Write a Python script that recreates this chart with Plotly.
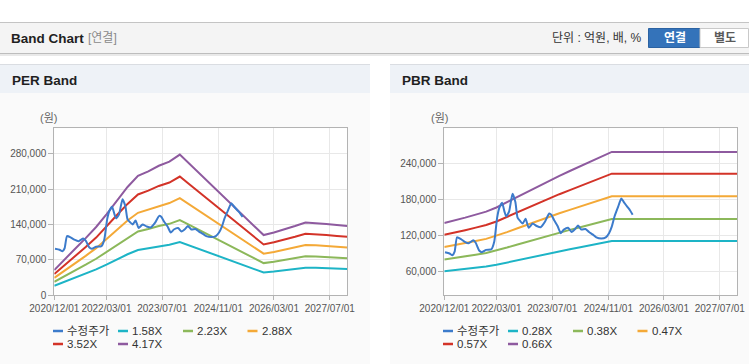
import plotly.graph_objects as go

W, H = 749, 364

# ---------------- data ----------------
band_dates = ["2020-12-01", "2021-03-01", "2021-06-01", "2021-09-01", "2021-12-01",
              "2022-03-01", "2022-06-01", "2022-09-01", "2022-12-01", "2023-03-01",
              "2023-06-01", "2023-09-01", "2023-12-01", "2024-03-01", "2024-06-01",
              "2024-09-01", "2024-12-01", "2025-03-01", "2025-06-01", "2025-09-01",
              "2025-12-01", "2026-03-01", "2026-06-01", "2026-09-01", "2026-12-01",
              "2027-03-01", "2027-06-01", "2027-09-01", "2027-12-01"]

per_names = ["1.58X", "2.23X", "2.88X", "3.52X", "4.17X"]
per_158 = [18900, 26500, 34900, 42800, 51200, 60600, 71200, 81100, 89400, 92800, 97000, 100000, 105300,
           97800, 90200, 82600, 75000, 67400, 59900, 52300, 45100, 47000, 49300, 51900, 54600, 54200,
           53400, 52700, 51900]
per_223 = [26700, 37400, 49200, 60400, 72200, 85600, 100500, 114400, 126200, 131000, 136900, 141200,
           148700, 138000, 127300, 116600, 105900, 95200, 84500, 73800, 63600, 66300, 69500, 73300,
           77000, 76500, 75400, 74300, 73300]
per_288 = [34500, 48300, 63500, 78000, 93200, 110500, 129800, 147800, 163000, 169200, 176800, 182300,
           192000, 178200, 164400, 150600, 136700, 122900, 109100, 95300, 82200, 85600, 89800, 94600,
           99400, 98800, 97400, 96000, 94600]
per_352 = [42200, 59100, 77700, 95400, 114000, 135100, 158700, 180600, 199200, 206800, 216100, 222800,
           234700, 217800, 200900, 184000, 167100, 150300, 133400, 116500, 100400, 104700, 109700,
           115600, 121600, 120700, 119000, 117300, 115600]
per_417 = [50000, 70000, 92000, 113000, 135000, 160000, 188000, 214000, 236000, 245000, 256000, 264000,
           278000, 258000, 238000, 218000, 198000, 178000, 158000, 138000, 119000, 124000, 130000,
           137000, 144000, 143000, 141000, 139000, 137000]

pbr_names = ["0.28X", "0.38X", "0.47X", "0.57X", "0.66X"]
pbr_028 = [60100, 61800, 63900, 66000, 68200, 71100, 75000, 78800, 82600, 86500, 90300, 93700, 97100,
           100500, 103900, 107400, 110800, 110800, 110800, 110800, 110800, 110800, 110800, 110800,
           110800, 110800, 110800, 110800, 110800]
pbr_038 = [80100, 82400, 85200, 88000, 90900, 94900, 100000, 105100, 110200, 115300, 120400, 125000,
           129500, 134000, 138600, 143100, 147700, 147700, 147700, 147700, 147700, 147700, 147700,
           147700, 147700, 147700, 147700, 147700, 147700]
pbr_047 = [100800, 103700, 107300, 110800, 114400, 119400, 125800, 132300, 138700, 145100, 151600,
           157300, 163000, 168700, 174500, 180200, 185900, 185900, 185900, 185900, 185900, 185900,
           185900, 185900, 185900, 185900, 185900, 185900, 185900]
pbr_057 = [121300, 124700, 129000, 133300, 137600, 143600, 151400, 159100, 166800, 174600, 182300,
           189200, 196100, 203000, 209800, 216700, 223600, 223600, 223600, 223600, 223600, 223600,
           223600, 223600, 223600, 223600, 223600, 223600, 223600]
pbr_066 = [141000, 145000, 150000, 155000, 160000, 167000, 176000, 185000, 194000, 203000, 212000,
           220000, 228000, 236000, 244000, 252000, 260000, 260000, 260000, 260000, 260000, 260000,
           260000, 260000, 260000, 260000, 260000, 260000, 260000]

price_name = "수정주가"
price_dates = ["2020-12-07", "2021-01-16", "2021-02-10", "2021-03-01", "2021-03-22", "2021-04-25",
               "2021-05-25", "2021-07-01", "2021-08-10", "2021-09-01", "2021-10-01", "2021-10-25",
               "2021-12-01", "2022-01-16", "2022-02-10", "2022-03-07", "2022-03-25", "2022-04-19",
               "2022-05-10", "2022-05-25", "2022-06-19", "2022-07-19", "2022-08-13", "2022-09-01",
               "2022-09-25", "2022-10-16", "2022-11-10", "2022-12-07", "2023-01-10", "2023-02-15",
               "2023-03-22", "2023-04-28", "2023-06-04", "2023-06-22", "2023-07-16", "2023-08-16",
               "2023-09-13", "2023-10-10", "2023-11-16", "2023-12-16", "2024-01-16", "2024-02-10",
               "2024-03-10", "2024-04-16", "2024-05-16", "2024-06-16", "2024-07-19", "2024-09-01",
               "2024-10-10", "2024-11-07", "2024-12-01", "2024-12-25", "2025-01-25", "2025-02-22",
               "2025-03-16", "2025-04-16", "2025-05-10", "2025-06-01"]
price_values = [92000, 90000, 87000, 93000, 117000, 114000, 110000, 107000, 112000, 108000, 95000,
                92000, 96000, 97000, 110000, 150000, 166000, 175000, 160000, 152000, 160000, 190000,
                176000, 150000, 144000, 140000, 148000, 133000, 140000, 136000, 134000, 143000,
                157000, 155000, 146000, 136000, 124000, 130000, 133000, 126000, 131000, 137000,
                130000, 131000, 126000, 122000, 117000, 115000, 117000, 124000, 135000, 152000,
                168000, 182000, 176000, 168000, 162000, 155000]

x_tickvals = ["2020-12-01", "2022-03-01", "2023-07-01", "2024-11-01", "2026-03-01", "2027-07-01"]
x_ticktext = ["2020/12/01", "2022/03/01", "2023/07/01", "2024/11/01", "2026/03/01", "2027/07/01"]
x_range = ["2020-12-01", "2027-12-01"]

band_colors = ["#1db4c6", "#8cb85a", "#f4a937", "#d33328", "#8e5a9f"]
price_color = "#3c7bcb"

# ---------------- helpers ----------------
def px(x):
    return x / W


def py(y):
    return 1 - y / H


fig = go.Figure()

per_series = [per_158, per_223, per_288, per_352, per_417]
pbr_series = [pbr_028, pbr_038, pbr_047, pbr_057, pbr_066]

for name, vals, col in zip(per_names, per_series, band_colors):
    fig.add_trace(go.Scatter(x=band_dates, y=vals, name=name, mode="lines",
                             line=dict(color=col, width=2), xaxis="x", yaxis="y",
                             showlegend=False))
fig.add_trace(go.Scatter(x=price_dates, y=price_values, name=price_name, mode="lines",
                         line=dict(color=price_color, width=2, shape="spline", smoothing=0.5),
                         xaxis="x", yaxis="y", showlegend=False))

for name, vals, col in zip(pbr_names, pbr_series, band_colors):
    fig.add_trace(go.Scatter(x=band_dates, y=vals, name=name, mode="lines",
                             line=dict(color=col, width=2), xaxis="x2", yaxis="y2",
                             showlegend=False))
fig.add_trace(go.Scatter(x=price_dates, y=price_values, name=price_name, mode="lines",
                         line=dict(color=price_color, width=2, shape="spline", smoothing=0.5),
                         xaxis="x2", yaxis="y2", showlegend=False))

tick_font = dict(family="Liberation Sans, Arial, sans-serif", size=10, color="#555555")
ydom = [py(295.3), py(128.3)]

common_x = dict(type="date", range=x_range, tickvals=x_tickvals, ticktext=x_ticktext,
                tickangle=0, showline=True, mirror=True, linecolor="#b3b3b3", linewidth=1,
                showgrid=True, gridcolor="#e8e8e8", gridwidth=1,
                ticks="outside", ticklen=4, tickcolor="#b3b3b3", tickfont=tick_font,
                zeroline=False, fixedrange=True)
common_y = dict(showline=True, mirror=True, linecolor="#b3b3b3", linewidth=1,
                showgrid=True, gridcolor="#e8e8e8", gridwidth=1,
                ticks="outside", ticklen=5, tickcolor="#b3b3b3", tickfont=tick_font,
                tickformat=",d", zeroline=False, fixedrange=True)

fig.update_layout(
    xaxis=dict(common_x, domain=[px(54.3), px(347.3)], anchor="y"),
    yaxis=dict(common_y, domain=ydom, anchor="x", range=[0, 330000], tick0=0, dtick=70000),
    xaxis2=dict(common_x, domain=[px(444.3), px(737.3)], anchor="y2"),
    yaxis2=dict(common_y, domain=ydom, anchor="x2", range=[20000, 299500], tick0=0, dtick=60000),
)

shapes = []


def rect(x0, y0, x1, y1, fill, line_color=None, lw=0):
    shapes.append(dict(type="rect", xref="paper", yref="paper", x0=px(x0), x1=px(x1),
                       y0=py(y1), y1=py(y0), fillcolor=fill, layer="below",
                       line=dict(color=line_color or fill, width=lw)))


def hline(x0, x1, y, color, lw=1):
    shapes.append(dict(type="line", xref="paper", yref="paper", x0=px(x0), x1=px(x1),
                       y0=py(y), y1=py(y), layer="below", line=dict(color=color, width=lw)))


# header bar
rect(0, 22, 749, 53, "#f4f4f4")
hline(0, 749, 22.5, "#c4c4c4")
hline(0, 749, 53.5, "#bdbdbd")
hline(0, 749, 55, "#e9e9e9", 2)
rect(648.5, 28.5, 700, 47.5, "#3473ba", "#2b62a2", 1)
rect(700, 28.5, 748.5, 47.5, "#ffffff", "#c9c9c9", 1)

# panels
for off, w in [(0, 370), (390, 359)]:
    rect(off, 64, off + w, 93, "#eef2f7")
    hline(off, off + w, 64.5, "#dadde2")
    rect(off, 93, off + w, 364, "#fafafa")
# white plot areas
rect(54.3, 128.3, 347.3, 295.3, "#ffffff")
rect(444.3, 128.3, 737.3, 295.3, "#ffffff")

annotations = []


def text(x, y, s, size=12, color="#333333", anchor="left", bold=False,
         family="Liberation Sans, Noto Sans CJK KR, sans-serif"):
    annotations.append(dict(xref="paper", yref="paper", x=px(x), y=py(y),
                            text=("<b>%s</b>" % s) if bold else s, showarrow=False,
                            xanchor=anchor, yanchor="middle",
                            font=dict(size=size, color=color, family=family)))


text(9, 38.5, "Band Chart", 13.5, "#1f1f1f", bold=True)
text(86, 38.5, "[연결]", 12, "#8a8a8a")
text(644, 38.5, "단위 : 억원, 배, %", 12, "#333333", anchor="right")
text(674.5, 38.5, "연결", 12, "#ffffff", anchor="center", bold=True)
text(724.5, 38.5, "별도", 12, "#5a5a5a", anchor="center", bold=True)

text(10, 80.5, "PER Band", 13.5, "#1f1f1f", bold=True)
text(400, 80.5, "PBR Band", 13.5, "#1f1f1f", bold=True)
text(49, 118, "(원)", 11, "#666666", anchor="center")
text(439, 118, "(원)", 11, "#666666", anchor="center")

# manual legends
legend_slots = [(53, 331), (118, 331), (183, 331), (247.5, 331), (53, 344), (118, 344)]
for off, names in [(0, per_names), (390, pbr_names)]:
    entries = [(price_name, price_color)] + list(zip(names, band_colors))
    for (lx, ly), (nm, col) in zip(legend_slots, entries):
        shapes.append(dict(type="line", xref="paper", yref="paper",
                           x0=px(off + lx), x1=px(off + lx + 10), y0=py(ly), y1=py(ly),
                           line=dict(color=col, width=2.5)))
        text(off + lx + 12, ly, nm, 11.5, "#333333")

fig.update_layout(
    width=W, height=H, margin=dict(l=0, r=0, t=0, b=0, pad=0, autoexpand=False),
    paper_bgcolor="#ffffff", plot_bgcolor="#ffffff",
    shapes=shapes, annotations=annotations, showlegend=False,
    font=dict(family="Liberation Sans, Noto Sans CJK KR, sans-serif", size=11, color="#333333"),
)

fig.write_html("out.html", config={"displayModeBar": False},
               post_script="document.body.style.margin='0px';document.body.style.overflow='hidden';")
